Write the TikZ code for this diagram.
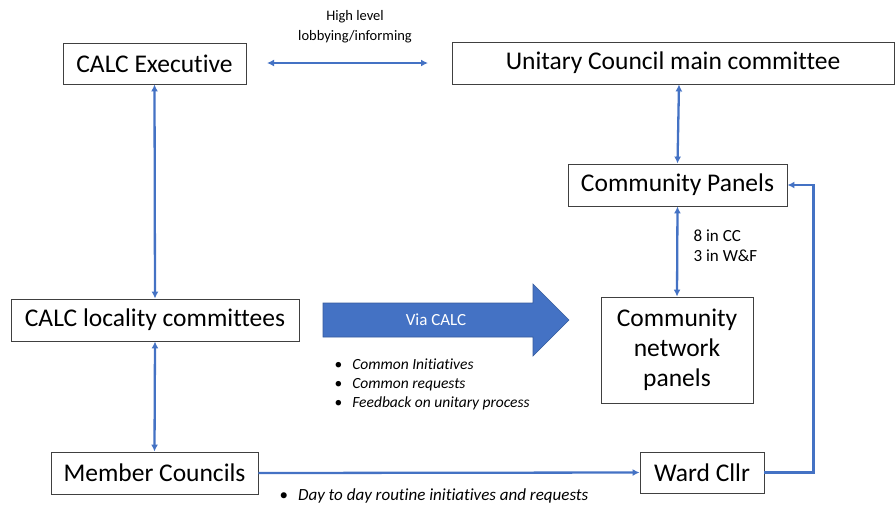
\documentclass[tikz,border=0pt]{standalone}
\usepackage{fontspec}
\setmainfont{Carlito}[Ligatures=NoCommon]
\usepackage{tikz}
\usetikzlibrary{arrows.meta}

\definecolor{linkblue}{HTML}{4472C4}

\begin{document}
\begin{tikzpicture}[x=1pt, y=-1pt, >={Latex[length=7pt, width=7pt]}, semithick,
    box/.style={draw=black!75, line width=0.9pt, font=\fontsize{25.5}{27}\selectfont, inner sep=0pt},
    link/.style={<->, draw=linkblue, line width=2.3pt},
    note/.style={font=\fontsize{15.5}{19}\selectfont, align=left, anchor=west}]
    \useasboundingbox (0,0) rectangle (896,507);

    \node[box, minimum width=183pt, minimum height=41pt] (EXEC) at (154.5,63.5)   {CALC Executive};
    \node[box, minimum width=442pt, minimum height=42pt] (UNIT) at (673,63)       {Unitary Council main committee};
    \node[box, minimum width=219pt, minimum height=42pt] (CP)   at (677.5,185)    {Community Panels};
    \node[box, minimum width=152pt, minimum height=106pt, align=center,
          font=\fontsize{25.5}{30}\selectfont] (CNP) at (677,350) {Community\\network\\panels};
    \node[box, minimum width=288pt, minimum height=42pt] (LOC)  at (155,320)      {CALC locality committees};
    \node[box, minimum width=207pt, minimum height=42pt] (MEM)  at (154.5,473)    {Member Councils};
    \node[box, minimum width=124pt, minimum height=41pt] (WARD) at (702,472.5)    {Ward Cllr};

    % high level link
    \coordinate (HL) at (267,63);
    \coordinate (HR) at (428,63);
    \draw[link] (HL) -- (HR);
    \node[font=\fontsize{14.5}{20}\selectfont, align=center] (HIGH) at (355,27) {High level\\lobbying/informing};

    \draw[link] (EXEC.south) -- (LOC.north);
    \draw[link] (LOC.south) -- (MEM.north);
    \draw[link] ([xshift=1.5pt]UNIT.south west -| CP.south) -- (CP.north);
    \draw[link] (CP.south) -- (CNP.north);
    \node[note, font=\fontsize{17}{20}\selectfont] (COUNT) at (690,246) {8 in CC\\3 in W\&F};

    \draw[->, draw=linkblue, line width=2.3pt] (MEM.east) -- (WARD.west);
    \draw[->, draw=linkblue, line width=2.3pt] (WARD.east) -- ++(49,0) |- (CP.east);

    % via CALC arrow
    \fill[linkblue, draw=linkblue!80!black, line width=0.6pt]
        (323,303) -- (533,303) -- (533,284) -- (569,320) -- (533,356) -- (533,337) -- (323,337) -- cycle;
    \node[font=\fontsize{17}{20}\selectfont, text=white] (VIA) at (436,320) {Via CALC};

    \node[note] (BULL) at (331,384) {\textbullet\hspace{10pt}\textit{Common Initiatives}\\
        \textbullet\hspace{10pt}\textit{Common requests}\\
        \textbullet\hspace{10pt}\textit{Feedback on unitary process}};
    \node[note, font=\fontsize{17}{20}\selectfont] (DAY) at (276,496) {\textbullet\hspace{10pt}\textit{Day to day routine initiatives and requests}};
\end{tikzpicture}
\end{document}
